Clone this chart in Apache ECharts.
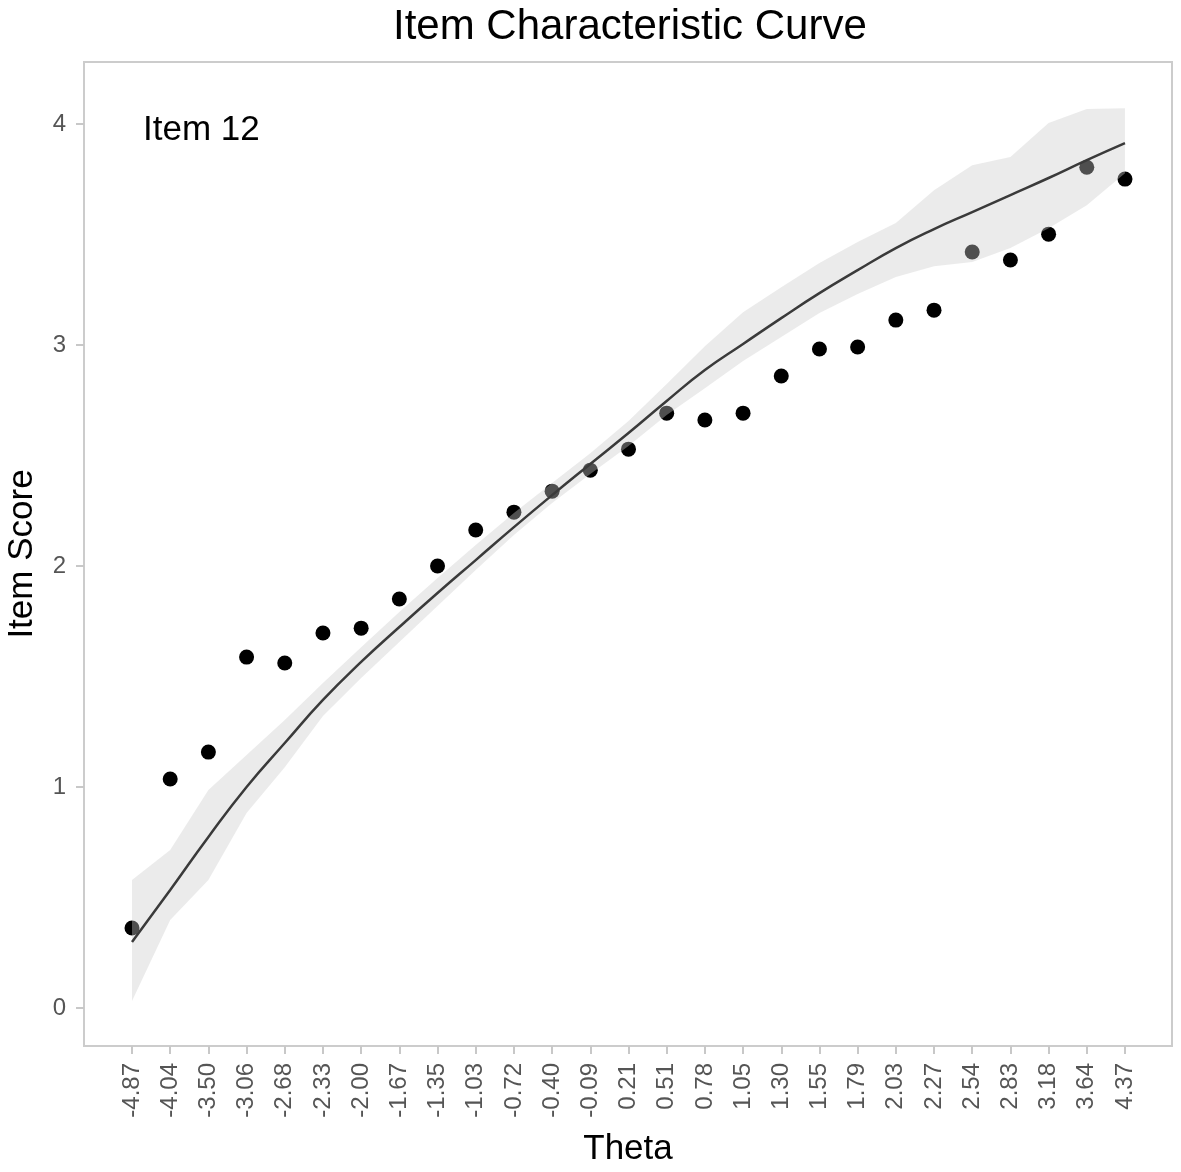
<!DOCTYPE html>
<html>
<head>
<meta charset="utf-8">
<title>Item Characteristic Curve</title>
<script src="https://cdn.jsdelivr.net/npm/echarts@6/dist/echarts.min.js"></script>
<style>
  html, body { margin: 0; padding: 0; background: #fff; }
  #chart { width: 1181px; height: 1172px; }
</style>
</head>
<body>
<div id="chart"></div>
<script>
// theta groups on the x axis (evenly spaced, ordinal)
const thetaLabels = ['-4.87', '-4.04', '-3.50', '-3.06', '-2.68', '-2.33', '-2.00', '-1.67', '-1.35',
  '-1.03', '-0.72', '-0.40', '-0.09', '0.21', '0.51', '0.78', '1.05', '1.30', '1.55', '1.79',
  '2.03', '2.27', '2.54', '2.83', '3.18', '3.64', '4.37']

// observed mean item score per theta group
const observed = [0.362, 1.036, 1.158, 1.588, 1.561, 1.697, 1.719, 1.851, 2.000, 2.163, 2.244, 2.339,
  2.434, 2.529, 2.692, 2.661, 2.692, 2.860, 2.982, 2.991, 3.113, 3.158, 3.421, 3.385, 3.502, 3.805, 3.751]

// expected (model) score
const fitted = [0.299, 0.534, 0.774, 1.000, 1.199, 1.394, 1.566, 1.724, 1.878, 2.027, 2.176, 2.321,
  2.462, 2.602, 2.747, 2.887, 3.005, 3.122, 3.235, 3.339, 3.439, 3.525, 3.602, 3.679, 3.756, 3.837, 3.914]

// confidence band
const bandLower = [0.032, 0.398, 0.579, 0.882, 1.090, 1.321, 1.493, 1.656, 1.819, 1.982, 2.140, 2.285,
  2.416, 2.543, 2.683, 2.805, 2.928, 3.036, 3.145, 3.231, 3.308, 3.357, 3.376, 3.439, 3.529, 3.633, 3.778]
const bandUpper = [0.579, 0.715, 0.986, 1.145, 1.303, 1.471, 1.633, 1.792, 1.946, 2.095, 2.240, 2.376,
  2.511, 2.656, 2.824, 2.995, 3.149, 3.262, 3.371, 3.466, 3.552, 3.701, 3.814, 3.851, 4.005, 4.068, 4.072]

const scoreTicks = [0, 1, 2, 3, 4]

const font = 'Liberation Sans, Arial, Helvetica, sans-serif'
const idx = thetaLabels.map((t, i) => i)

const chart = echarts.init(document.getElementById('chart'), null, { renderer: 'canvas' })

// whole band as one polygon, drawn once from the first item
function renderBand(params, api) {
  if (params.dataIndex !== 0) return null
  const top = idx.map(i => api.coord([i, bandUpper[i]]))
  const bottom = idx.map(i => api.coord([i, bandLower[i]])).reverse()
  return {
    type: 'polygon',
    shape: { points: top.concat(bottom) },
    style: { fill: 'rgba(204,204,204,0.39)' }
  }
}

chart.setOption({
  animation: false,
  backgroundColor: '#ffffff',
  title: {
    text: 'Item Characteristic Curve',
    left: 388,
    top: 1,
    textStyle: { fontFamily: font, fontSize: 42, fontWeight: 'normal', color: '#000' }
  },
  grid: {
    left: 84,
    right: 9,
    top: 62,
    bottom: 126,
    show: true,
    borderColor: '#cccccc',
    borderWidth: 2,
    outerBoundsMode: 'none'
  },
  xAxis: {
    type: 'value',
    min: -1.257,
    max: 27.231,
    name: 'Theta',
    nameLocation: 'middle',
    nameGap: 86,
    nameTextStyle: { fontFamily: font, fontSize: 35, color: '#000' },
    axisLine: { show: false, onZero: false },
    splitLine: { show: false },
    axisTick: {
      show: true,
      customValues: idx,
      length: 8,
      lineStyle: { color: '#c8c8c8', width: 2 }
    },
    axisLabel: {
      customValues: idx,
      rotate: 90,
      margin: 17,
      fontFamily: font,
      fontSize: 24,
      color: '#555',
      formatter: v => thetaLabels[Math.round(v)]
    }
  },
  yAxis: {
    type: 'value',
    min: -0.172,
    max: 4.281,
    name: 'Item Score',
    nameLocation: 'middle',
    nameGap: 44,
    nameTextStyle: { fontFamily: font, fontSize: 35, color: '#000' },
    axisLine: { show: false, onZero: false },
    splitLine: { show: false },
    axisTick: {
      show: true,
      customValues: scoreTicks,
      length: 8,
      lineStyle: { color: '#c8c8c8', width: 2 }
    },
    axisLabel: {
      customValues: scoreTicks,
      margin: 18,
      fontFamily: font,
      fontSize: 24,
      color: '#555'
    }
  },
  graphic: [{
    type: 'text',
    left: 143,
    top: 113,
    style: { text: 'Item 12', fontFamily: font, fontSize: 35, fill: '#000' }
  }],
  series: [
    {
      name: 'observed',
      type: 'scatter',
      z: 2,
      symbolSize: 15,
      itemStyle: { color: '#000', opacity: 1 },
      data: idx.map(i => [i, observed[i]])
    },
    {
      name: 'band',
      type: 'custom',
      z: 3,
      silent: true,
      renderItem: renderBand,
      data: idx.map(i => [i, bandLower[i], bandUpper[i]])
    },
    {
      name: 'expected',
      type: 'line',
      z: 4,
      symbol: 'none',
      smooth: true,
      lineStyle: { color: '#3a3a3a', width: 2.5 },
      data: idx.map(i => [i, fitted[i]])
    }
  ]
})
</script>
</body>
</html>
